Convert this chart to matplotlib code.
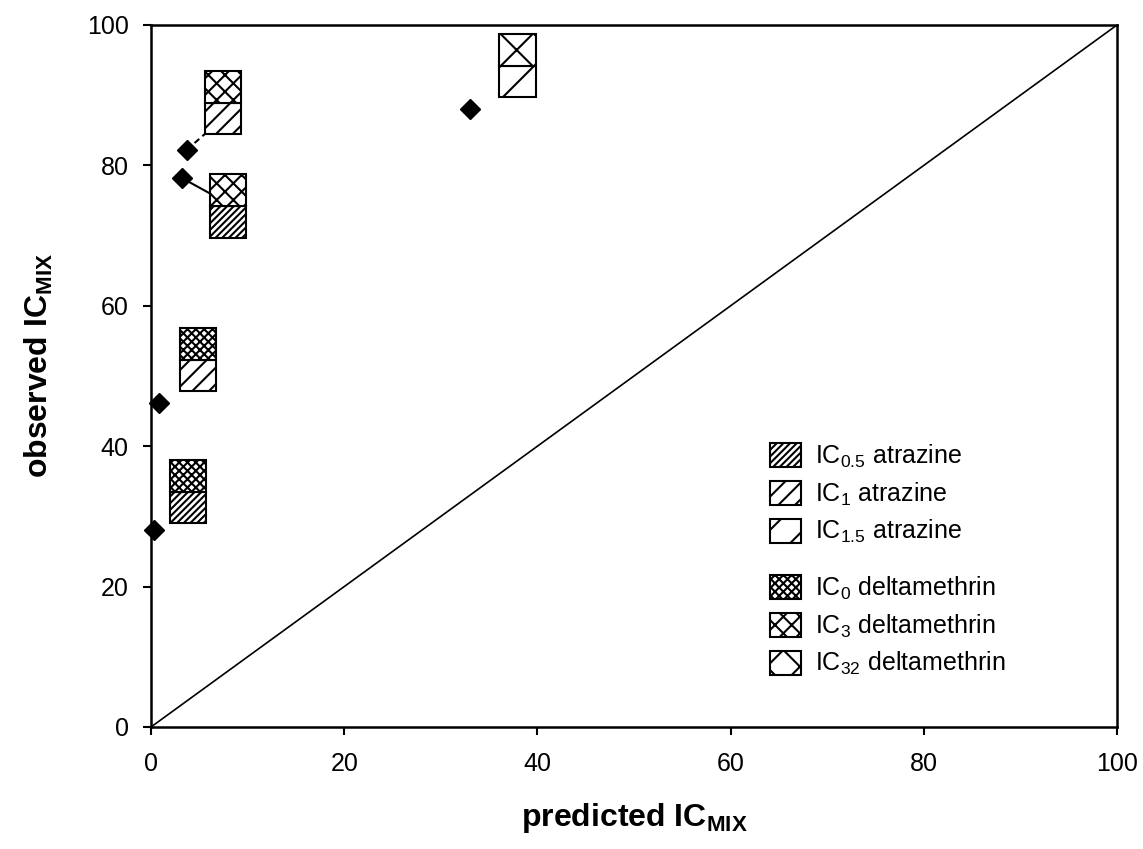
import matplotlib
matplotlib.use("Agg")
import matplotlib.pyplot as plt
from matplotlib.patches import Rectangle

plt.rcParams["font.family"] = ["Liberation Sans", "DejaVu Sans"]
plt.rcParams["mathtext.fontset"] = "custom"
plt.rcParams["mathtext.rm"] = "Liberation Sans"
plt.rcParams["mathtext.bf"] = "Liberation Sans:bold"
plt.rcParams["mathtext.it"] = "Liberation Sans:italic"
plt.rcParams["hatch.linewidth"] = 1.5

# predicted vs observed IC_MIX
pred = [33.0, 3.7, 3.2, 0.8, 0.3]
obs = [88.0, 82.2, 78.2, 46.2, 28.0]

# boxes next to each point: centre x, y of the split line, atrazine / deltamethrin level
box_x = [37.95, 7.45, 8.0, 4.85, 3.85]
box_y = [94.2, 88.9, 74.2, 52.3, 33.5]
box_atrazine = ["IC1.5", "IC1", "IC0.5", "IC1", "IC0.5"]
box_delta = ["IC32", "IC3", "IC3", "IC0", "IC0"]

# leader lines from point to box
lead_dashed_x, lead_dashed_y = [3.7, 5.6], [82.2, 84.5]
lead_solid_x, lead_solid_y = [3.2, 6.1], [78.2, 76.0]

atrazine_levels = ["IC0.5", "IC1", "IC1.5"]
atrazine_labels = [r"IC$_{0.5}$ atrazine", r"IC$_{1}$ atrazine", r"IC$_{1.5}$ atrazine"]
delta_levels = ["IC0", "IC3", "IC32"]
delta_labels = [r"IC$_{0}$ deltamethrin", r"IC$_{3}$ deltamethrin", r"IC$_{32}$ deltamethrin"]

HATCH = {"IC0.5": "/////", "IC1": "//", "IC1.5": "/",
         "IC0": "xxxx", "IC3": "xx", "IC32": "x"}
BOX_W = 3.75
BOX_H = 4.5


def box_patch(xy, w, h, level):
    return Rectangle(xy, w, h, facecolor="white", edgecolor="black",
                     linewidth=1.5, hatch=HATCH[level])


fig = plt.figure(figsize=(11.43, 8.49), dpi=100)
ax = fig.add_axes([0.1321, 0.1437, 0.8452, 0.8269])

ax.plot([0, 100], [0, 100], color="black", linewidth=1.2, zorder=1)

ax.plot(lead_dashed_x, lead_dashed_y, color="black", linewidth=1.5,
        linestyle=(0, (3, 2)), zorder=2)
ax.plot(lead_solid_x, lead_solid_y, color="black", linewidth=1.5, zorder=2)

for x, y, atr, dlt in zip(box_x, box_y, box_atrazine, box_delta):
    ax.add_patch(box_patch((x - BOX_W / 2, y - BOX_H), BOX_W, BOX_H, atr))
    ax.add_patch(box_patch((x - BOX_W / 2, y), BOX_W, BOX_H, dlt))

ax.plot(pred, obs, linestyle="none", marker="D", markersize=10.5,
        color="black", clip_on=False, zorder=5)

ax.set_xlim(0, 100)
ax.set_ylim(0, 100)
ax.set_xticks(range(0, 101, 20))
ax.set_yticks(range(0, 101, 20))
ax.tick_params(axis="both", direction="out", length=6, width=1.5, labelsize=18)
ax.tick_params(axis="x", pad=12)
ax.tick_params(axis="y", pad=10)
for s in ax.spines.values():
    s.set_linewidth(1.8)

ax.set_xlabel(r"predicted IC$_{\mathbf{MIX}}$", fontsize=23, fontweight="bold", labelpad=18)
ax.set_ylabel(r"observed IC$_{\mathbf{MIX}}$", fontsize=23, fontweight="bold", labelpad=23)
ax.yaxis.label.set_y(0.515)

leg_kw = dict(frameon=False, fontsize=18, handlelength=1.25, handleheight=1.1,
              handletextpad=0.55, labelspacing=0.42, borderpad=0, borderaxespad=0,
              loc="upper left")
h1 = [box_patch((0, 0), 1, 1, lv) for lv in atrazine_levels]
leg1 = ax.legend(h1, atrazine_labels, bbox_to_anchor=(0.641, 0.405), **leg_kw)
ax.add_artist(leg1)
h2 = [box_patch((0, 0), 1, 1, lv) for lv in delta_levels]
ax.legend(h2, delta_labels, bbox_to_anchor=(0.641, 0.217), **leg_kw)

fig.savefig("out.png", dpi=100)
